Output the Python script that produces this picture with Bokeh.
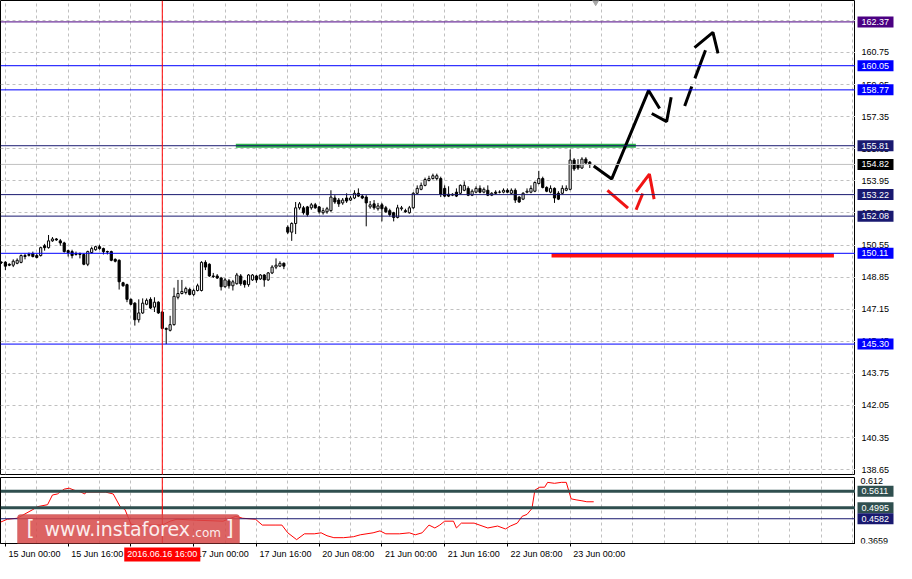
from bokeh.plotting import figure
from bokeh.models import (Range1d, FixedTicker, Span, Label, BoxAnnotation)
from bokeh.layouts import column, row
from bokeh.embed import file_html
from bokeh.resources import INLINE
from bokeh.core.properties import value

FONT = "Liberation Sans"

# ---------------- data (H1 bars, index 0 = 15 Jun 00:00) ----------------
bar_index = list(range(-1, 150))
open_ = [149.63, 149.64, 149.53, 149.48, 149.58, 149.63, 149.99, 150.00, 150.10, 149.99,
         149.99, 150.51, 150.41, 150.77, 150.87, 150.77, 150.66, 150.25, 150.20, 150.05,
         150.10, 150.05, 149.53, 150.15, 150.30, 150.46, 150.36, 150.20, 150.20, 149.79,
         149.74, 148.55, 148.45, 147.67, 147.47, 146.59, 146.95, 147.41, 147.67, 147.26,
         147.52, 147.00, 146.13, 146.03, 146.33, 147.78, 147.98, 148.03, 148.19, 147.93,
         148.14, 148.14, 149.63, 149.53, 148.91, 148.91, 148.80, 148.34, 148.65, 148.39,
         148.50, 148.91, 148.65, 148.45, 148.70, 148.91, 148.75, 148.96, 148.70, 149.07,
         149.38, 149.43, 149.58, 151.49, 151.23, 151.69, 152.52, 152.52, 152.57, 152.52,
         152.68, 152.57, 152.26, 152.31, 152.37, 153.04, 152.93, 152.78, 153.04, 152.93,
         153.04, 153.29, 153.14, 153.09, 152.57, 152.73, 152.47, 152.68, 152.52, 152.37,
         152.26, 152.01, 152.47, 152.37, 152.26, 152.52, 153.29, 153.50, 153.71, 153.97,
         154.07, 154.07, 154.07, 153.55, 153.24, 153.19, 153.35, 153.29, 153.45, 153.55,
         153.19, 153.35, 153.55, 153.35, 153.45, 153.19, 153.35, 153.35, 153.35, 153.45,
         153.29, 153.45, 153.09, 152.98, 153.35, 153.35, 153.40, 153.81, 154.07, 153.60,
         153.35, 153.55, 153.29, 153.29, 153.45, 153.50, 155.05, 154.79, 154.63, 155.10,
         154.94]
high = [149.68, 149.69, 149.58, 149.79, 149.84, 150.05, 150.10, 150.15, 150.20, 150.10,
        150.46, 150.61, 151.08, 150.97, 150.92, 150.87, 150.72, 150.30, 150.30, 150.20,
        150.15, 150.10, 150.25, 150.46, 150.51, 150.56, 150.41, 150.25, 150.25, 149.84,
        149.79, 148.60, 148.50, 147.72, 147.52, 147.67, 147.72, 147.72, 147.78, 147.78,
        147.57, 147.05, 146.18, 146.80, 148.29, 148.70, 148.70, 148.34, 148.29, 148.24,
        148.50, 149.69, 149.74, 149.58, 149.07, 149.01, 148.86, 148.80, 148.75, 148.70,
        149.07, 149.01, 148.70, 149.01, 149.01, 148.96, 149.01, 149.01, 149.12, 149.48,
        149.84, 149.69, 149.63, 151.59, 151.75, 152.83, 152.83, 152.62, 152.62, 152.78,
        152.78, 152.62, 152.52, 152.57, 153.45, 153.19, 153.04, 153.04, 153.29, 153.14,
        153.45, 153.55, 153.24, 153.19, 152.88, 152.93, 152.78, 152.78, 152.62, 152.47,
        152.31, 152.68, 152.62, 152.47, 152.62, 153.35, 153.71, 153.86, 154.12, 154.22,
        154.33, 154.33, 154.17, 153.71, 153.66, 153.29, 153.55, 153.76, 153.92, 153.66,
        153.50, 153.66, 153.71, 153.60, 153.71, 153.35, 153.45, 153.45, 153.55, 153.55,
        153.55, 153.55, 153.14, 153.35, 153.55, 153.71, 153.92, 154.48, 154.17, 153.66,
        153.71, 153.60, 153.40, 153.71, 153.71, 155.61, 155.15, 155.10, 155.20, 155.20,
        155.00]
low = [149.55, 149.22, 149.43, 149.38, 149.53, 149.58, 149.79, 149.94, 149.89, 149.84,
       149.94, 150.25, 150.36, 150.72, 150.77, 150.51, 150.15, 149.94, 149.84, 149.99,
       149.84, 149.48, 149.43, 150.10, 150.25, 150.30, 150.05, 150.05, 149.69, 149.63,
       148.19, 148.34, 147.52, 147.36, 146.28, 146.44, 146.90, 147.36, 147.16, 147.00,
       146.90, 146.08, 145.30, 145.97, 146.28, 147.67, 147.93, 147.93, 147.88, 147.83,
       148.09, 148.09, 149.22, 148.86, 148.80, 148.75, 148.14, 148.29, 148.24, 148.14,
       148.45, 148.39, 148.29, 148.34, 148.65, 148.55, 148.70, 148.34, 148.65, 149.01,
       149.27, 149.38, 149.27, 151.13, 150.77, 151.13, 152.42, 152.16, 152.06, 152.42,
       152.47, 152.21, 152.16, 152.21, 152.31, 152.73, 152.57, 152.68, 152.78, 152.88,
       152.98, 153.09, 152.98, 151.54, 152.47, 152.42, 152.37, 151.80, 152.26, 152.06,
       151.80, 151.96, 152.37, 152.26, 152.21, 152.47, 153.24, 153.45, 153.66, 153.92,
       154.02, 153.97, 153.09, 153.09, 153.09, 153.14, 153.09, 153.24, 153.40, 153.14,
       153.14, 153.29, 153.29, 153.29, 153.14, 153.14, 153.24, 153.29, 153.29, 153.29,
       153.24, 152.78, 152.78, 152.93, 153.29, 153.29, 153.35, 153.76, 153.55, 153.35,
       153.29, 152.78, 152.93, 153.24, 153.40, 153.45, 154.48, 154.53, 154.58, 154.84,
       154.63]
close = [149.63, 149.43, 149.48, 149.69, 149.74, 149.99, 149.94, 150.05, 149.94, 149.89,
         150.41, 150.41, 150.77, 150.87, 150.82, 150.66, 150.20, 150.15, 149.99, 150.10,
         150.05, 149.53, 150.20, 150.36, 150.46, 150.36, 150.20, 150.18, 149.74, 149.69,
         148.60, 148.39, 147.67, 147.41, 146.59, 146.95, 147.47, 147.62, 147.21, 147.52,
         146.95, 146.13, 146.08, 146.33, 147.83, 147.98, 148.09, 148.24, 147.93, 148.14,
         148.39, 149.63, 149.38, 148.91, 148.88, 148.80, 148.34, 148.70, 148.39, 148.60,
         148.96, 148.50, 148.45, 148.96, 148.96, 148.70, 148.96, 148.70, 149.07, 149.38,
         149.48, 149.58, 149.43, 151.23, 151.69, 152.52, 152.73, 152.26, 152.16, 152.68,
         152.52, 152.31, 152.37, 152.47, 153.09, 152.83, 152.73, 152.93, 152.88, 153.04,
         153.29, 153.14, 153.04, 152.78, 152.68, 152.52, 152.62, 152.47, 152.31, 152.16,
         152.01, 152.52, 152.52, 152.31, 152.52, 153.29, 153.55, 153.71, 154.02, 154.07,
         154.22, 154.22, 153.24, 153.14, 153.14, 153.24, 153.14, 153.71, 153.71, 153.19,
         153.40, 153.55, 153.35, 153.50, 153.19, 153.29, 153.29, 153.35, 153.45, 153.35,
         153.45, 152.93, 152.83, 153.29, 153.40, 153.55, 153.86, 154.07, 153.60, 153.40,
         153.55, 153.04, 152.98, 153.55, 153.55, 155.05, 154.58, 154.63, 155.10, 154.89,
         154.82]

price_ticks = [138.65, 140.35, 142.05, 143.75, 145.45, 147.15, 148.85, 150.55,
               152.25, 153.95, 155.65, 157.35, 159.05, 160.75, 162.45]
time_ticks = [0, 16, 32, 48, 64, 80, 96, 112, 128, 144]
time_labels = ["15 Jun 00:00", "15 Jun 16:00", "16 Jun 08:00", "17 Jun 00:00",
               "17 Jun 16:00", "20 Jun 08:00", "21 Jun 00:00", "21 Jun 16:00",
               "22 Jun 08:00", "23 Jun 00:00"]
grid_bars = list(range(0, 217, 8))

level_prices = [162.37, 160.05, 158.77, 155.81, 154.82, 153.22, 152.08, 150.11, 145.30]
level_line_colors = ["#4B0082", "#0000FF", "#0000FF", "#191970", "#C0C0C0",
                     "#191970", "#191970", "#0000FF", "#0000FF"]
level_box_colors = ["#4B0082", "#0000FF", "#0000FF", "#191970", "#000000",
                    "#191970", "#191970", "#0000FF", "#0000FF"]

# oscillator (sub window)
ind_x = [-1.25, 0.5, 3, 7, 8.25, 10.75, 12, 13.25, 15, 16.25, 17.5, 19.25, 20.25, 20.5,
         25.5, 27.5, 29.25, 30.5, 32, 34, 37, 40, 42, 43.75, 48.75, 55.5, 58.75, 60.5,
         63.75, 65.5, 68.75, 70.5, 72, 74.25, 76.25, 78.75, 80.5, 82, 83.75, 86.25, 88.75,
         90.5, 93.75, 95.5, 97, 100.5, 103, 104.5, 106.25, 108, 109.5, 110.75, 112, 114.25,
         115, 116.25, 119.5, 123, 125.5, 127.5, 128.75, 130.5, 131.75, 133, 134.25, 135,
         136.25, 137.5, 138.25, 140, 141.75, 143, 144.25, 145.5, 147, 148.25, 150]
ind_v = [0.4455, 0.4564, 0.4600, 0.4925, 0.5034, 0.5106, 0.5468, 0.5505, 0.5686, 0.5722,
         0.5649, 0.5577, 0.5505, 0.5577, 0.5577, 0.5505, 0.5034, 0.4925, 0.4382, 0.4310,
         0.4346, 0.4346, 0.4491, 0.4564, 0.4527, 0.4491, 0.4672, 0.4600, 0.4564, 0.4346,
         0.4346, 0.4346, 0.4057, 0.3803, 0.4020, 0.4020, 0.4057, 0.3948, 0.3876, 0.3876,
         0.3912, 0.3984, 0.4057, 0.4129, 0.4020, 0.4020, 0.4057, 0.3984, 0.4057, 0.4346,
         0.4238, 0.4346, 0.4491, 0.4491, 0.4238, 0.4419, 0.4419, 0.4238, 0.4310, 0.4201,
         0.4310, 0.4419, 0.4672, 0.4744, 0.4962, 0.5649, 0.5758, 0.5758, 0.5939, 0.5903,
         0.5939, 0.5939, 0.5324, 0.5287, 0.5251, 0.5215, 0.5215]
ind_min, ind_max = 0.3659, 0.612
ind_levels = [0.5611, 0.4995, 0.4582]
ind_level_colors = ["#2F4F4F", "#2F4F4F", "#191970"]
ind_level_widths = [3, 3, 1]

# drawn forecast
green_x = [58.75, 160.75]
green_y = [155.81, 155.81]
red_x = [139.25, 211.25]
red_y = [150.00, 150.00]
black_xs = [[150, 154.6, 164, 166.8], [164.8, 168.6, 169.75], [173.2, 175],
            [175.8, 178.5], [175.7, 180.4, 181.7]]
black_ys = [[154.74, 154.05, 158.74, 157.78], [157.52, 157.09, 158.38], [157.92, 158.95],
            [159.38, 160.87], [161.01, 161.82, 160.70]]
redarr_xs = [[153.5, 158.75], [160.8, 162.5], [160.8, 164.2, 165.4]]
redarr_ys = [[153.45, 152.50], [152.42, 153.28], [153.36, 154.31, 152.98]]

cursor_bar = 40
cursor_text = "2016.06.16 16:00"
shift_bar = [150.5]

# ---------------- layout constants ----------------
TOTAL_W = 896
CHART_W = 855          # plot frames (left part)
SIDE_W = TOTAL_W - CHART_W
MAIN_H = 475
SUB_H = 72
TIME_H = 16
x_range = Range1d(-1.25, 216.75)
y_main = Range1d(138.39, 163.505)
side_x = Range1d(0, SIDE_W)


def bare(fig):
    fig.outline_line_color = None
    fig.background_fill_color = "white"
    fig.border_fill_color = "white"
    fig.xgrid.visible = False
    fig.ygrid.visible = False
    return fig


# ---------------- main chart ----------------
p = figure(width=CHART_W, height=MAIN_H, x_range=x_range, y_range=y_main,
           output_backend="svg", toolbar_location=None, x_axis_location=None,
           y_axis_location=None, min_border_left=0, min_border_right=0,
           min_border_top=0, min_border_bottom=1)
p.outline_line_color = "black"
p.background_fill_color = "white"
p.border_fill_color = "white"
p.ygrid.ticker = FixedTicker(ticks=price_ticks)
p.xgrid.ticker = FixedTicker(ticks=grid_bars)
for g in (p.xgrid, p.ygrid):
    g.grid_line_color = "#C0C0C0"
    g.grid_line_dash = "3 3"
    g.grid_line_width = 1

for lv, lc in zip(level_prices, level_line_colors):
    p.add_layout(Span(location=lv, dimension="width", line_color=lc, line_width=1))
p.add_layout(Span(location=cursor_bar, dimension="height", line_color="#FF0000", line_width=1))

bull = [k for k in range(len(bar_index)) if close[k] > open_[k]]
bear = [k for k in range(len(bar_index)) if close[k] <= open_[k]]
p.segment(x0=bar_index, y0=high, x1=bar_index, y1=low, line_color="black", line_width=1)
p.vbar(x=[bar_index[k] for k in bull], bottom=[open_[k] for k in bull],
       top=[close[k] for k in bull], width=0.55, fill_color="white", line_color="black",
       line_width=1)
p.vbar(x=[bar_index[k] for k in bear], bottom=[close[k] for k in bear],
       top=[open_[k] for k in bear], width=0.55, fill_color="black", line_color="black",
       line_width=1)

p.line(green_x, green_y, line_color="#2DB34A", line_width=4)
p.line(red_x, red_y, line_color="#FF1010", line_width=4)
p.multi_line(black_xs, black_ys, line_color="black", line_width=3)
p.multi_line(redarr_xs, redarr_ys, line_color="#F01414", line_width=3)

# chart-shift marker at the top edge
p.scatter(x=shift_bar, y=[y_main.end] * len(shift_bar), marker="inverted_triangle",
          size=9, fill_color="#A8A8A8", line_color="#A8A8A8")

# price scale column (tick labels + level boxes), sharing the main y scale
pr = bare(figure(width=SIDE_W, height=MAIN_H, x_range=side_x, y_range=y_main,
                 output_backend="svg", toolbar_location=None, x_axis_location=None,
                 y_axis_location=None, min_border_left=0, min_border_right=0,
                 min_border_top=0, min_border_bottom=1))
pr.text(x=[6] * len(price_ticks), y=price_ticks, text=[f"{v:.2f}" for v in price_ticks],
        text_font=value(FONT), text_font_size="9px", text_color="black",
        text_baseline="middle", text_align="left")
pr.rect(x=[20] * len(level_prices), y=level_prices, width=36, height=11,
        height_units="screen", fill_color=level_box_colors, line_color=None)
pr.text(x=[6] * len(level_prices), y=level_prices, text=[f"{v:.2f}" for v in level_prices],
        text_font=value(FONT), text_font_size="9px", text_color="white",
        text_baseline="middle", text_align="left")

# ---------------- oscillator window ----------------
s = figure(width=CHART_W, height=SUB_H, x_range=x_range, y_range=Range1d(ind_min, ind_max),
           output_backend="svg", toolbar_location=None, y_axis_location=None,
           min_border_left=0, min_border_right=0, min_border_top=2, min_border_bottom=4)
s.outline_line_color = "black"
s.background_fill_color = "white"
s.border_fill_color = "white"
s.ygrid.visible = False
s.xgrid.ticker = FixedTicker(ticks=grid_bars)
s.xgrid.grid_line_color = "#C0C0C0"
s.xgrid.grid_line_dash = "3 3"

sx = s.xaxis[0]
sx.ticker = FixedTicker(ticks=time_ticks, minor_ticks=[])
sx.axis_line_color = "black"
sx.major_tick_line_color = "black"
sx.major_tick_out = 3
sx.major_tick_in = 0
sx.major_label_standoff = 0
sx.major_label_text_font_size = "0px"
sx.major_label_overrides = {t: "" for t in time_ticks}

for lv, lc, lw in zip(ind_levels, ind_level_colors, ind_level_widths):
    s.add_layout(Span(location=lv, dimension="width", line_color=lc, line_width=lw))
s.add_layout(Span(location=cursor_bar, dimension="height", line_color="#FF0000", line_width=1))
s.line(ind_x, ind_v, line_color="#FF0000", line_width=1)

# watermark
s.add_layout(BoxAnnotation(left=17, right=239, bottom=-6, top=29, left_units="screen",
                           right_units="screen", bottom_units="screen", top_units="screen",
                           fill_color="#D64848", fill_alpha=0.85, line_color="#B83A3A",
                           line_width=1, border_radius=3))
s.add_layout(Label(x=26, y=4, x_units="screen", y_units="screen", text="[",
                   text_font="DejaVu Sans", text_font_size="21px", text_color="#FBEDED"))
s.add_layout(Label(x=44, y=4, x_units="screen", y_units="screen", text="www.instaforex",
                   text_font="DejaVu Sans", text_font_size="19px", text_color="#FBEDED"))
s.add_layout(Label(x=191, y=4, x_units="screen", y_units="screen", text=".com",
                   text_font="DejaVu Sans", text_font_size="12px", text_color="#FBEDED"))
s.add_layout(Label(x=225, y=4, x_units="screen", y_units="screen", text="]",
                   text_font="DejaVu Sans", text_font_size="21px", text_color="#FBEDED"))

# oscillator scale column
sr = bare(figure(width=SIDE_W, height=SUB_H, x_range=side_x, y_range=s.y_range,
                 output_backend="svg", toolbar_location=None, x_axis_location=None,
                 y_axis_location=None, min_border_left=0, min_border_right=0,
                 min_border_top=2, min_border_bottom=4))
sr.text(x=[5, 5], y=[ind_max, ind_min], text=[f"{ind_max:.3f}", f"{ind_min:.4f}"],
        text_font=value(FONT), text_font_size="9px", text_color="black",
        text_baseline=["top", "bottom"], text_align="left")
sr.rect(x=[20] * len(ind_levels), y=ind_levels, width=36, height=11,
        height_units="screen", fill_color=ind_level_colors, line_color=None)
sr.text(x=[6] * len(ind_levels), y=ind_levels, text=[f"{v:.4f}" for v in ind_levels],
        text_font=value(FONT), text_font_size="9px", text_color="white",
        text_baseline="middle", text_align="left")

# ---------------- time scale row ----------------
t = bare(figure(width=TOTAL_W, height=TIME_H, x_range=x_range, y_range=Range1d(0, TIME_H),
                output_backend="svg", toolbar_location=None, x_axis_location=None,
                y_axis_location=None, min_border_left=0, min_border_right=SIDE_W,
                min_border_top=0, min_border_bottom=0))
t.text(x=time_ticks, y=[10] * len(time_ticks), text=time_labels, x_offset=3,
       text_font=value(FONT), text_font_size="9px", text_color="black",
       text_baseline="middle", text_align="left")
t.add_layout(Label(x=cursor_bar, y=10, text=cursor_text, text_font=FONT,
                   text_font_size="9px", text_color="white", text_align="center",
                   text_baseline="middle", background_fill_color="#FF0000",
                   padding=3))

layout = column(row(p, pr, spacing=0), row(s, sr, spacing=0), t, spacing=0)
open("out.html", "w").write(file_html(layout, INLINE))
